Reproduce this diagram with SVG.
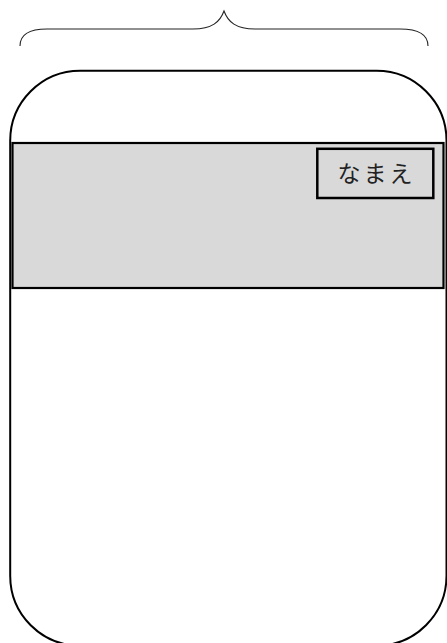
<svg xmlns="http://www.w3.org/2000/svg" width="447" height="643" viewBox="0 0 447 643">
<style>
.frame{fill:#ffffff;stroke:#000;stroke-width:2}
.band{fill:#d9d9d9;stroke:#000;stroke-width:2.2}
.name{fill:#d9d9d9;stroke:#000;stroke-width:2.5}
.brace{fill:none;stroke:#222;stroke-width:1.1}
.lbl{font-family:"Noto Sans CJK JP","Noto Sans CJK SC",sans-serif;font-size:23px;fill:#222;letter-spacing:3px}
</style>
<rect width="447" height="643" fill="#fff"/>
<g id="brace">
<path class="brace" d="M20,46 C20,36 27,29 47,29 L193,29 C212,29 220,22 224,11 C228,22 236,29 255,29 L400,29 C421,29 428,36 428,46"/>
</g>
<g id="phone">
<rect class="frame" x="10.2" y="70.7" width="436.3" height="575" rx="70" ry="70"/>
</g>
<g id="header">
<rect class="band" x="12.5" y="143" width="431" height="145"/>
</g>
<g id="name">
<rect class="name" x="317.3" y="148.8" width="116" height="49.2"/>
<text class="lbl" x="376.5" y="182" text-anchor="middle">なまえ</text>
</g>
<g id="connectors"></g>
</svg>
